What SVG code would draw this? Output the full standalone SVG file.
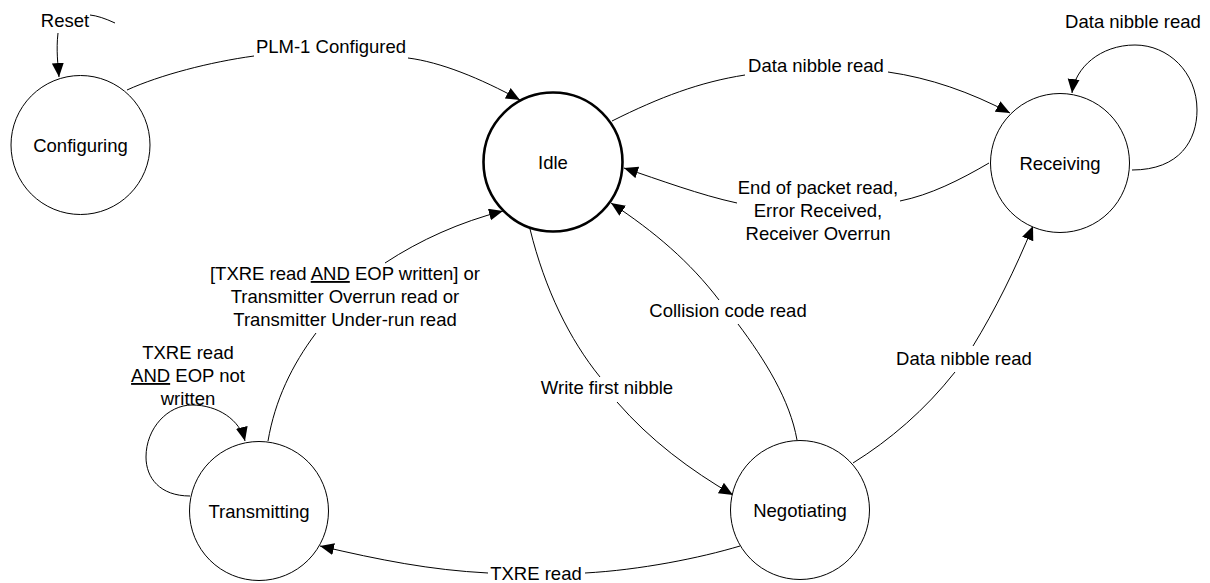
<svg xmlns="http://www.w3.org/2000/svg" width="1210" height="583" viewBox="0 0 1210 583">
<defs>
<marker id="arr" markerUnits="userSpaceOnUse" markerWidth="16" markerHeight="14" refX="14" refY="6" orient="auto">
<path d="M0,0 L14,6 L0,12 z" fill="#000"/>
</marker>
<style>
.st{fill:#fff;stroke:#000;stroke-width:1}
.idle{stroke-width:2.6}
.lbl{font-family:"Liberation Sans",Arial,sans-serif;font-size:18.5px;fill:#000;text-anchor:middle}
.c{fill:none;stroke:#000;stroke-width:1}
.a{marker-end:url(#arr)}
</style>
</defs>
<g id="connectors">
<path class="c" d="M115,23 Q100,16 90,15"/>
<path class="c a" d="M58,33 C56,50 58,65 59,77"/>
<path class="c" d="M127,90 C160,75 210,62 254,56"/>
<path class="c a" d="M408,58 C440,62 480,78 520,100"/>
<path class="c" d="M612,121 C660,97 700,82 745,75"/>
<path class="c a" d="M888,72 C930,78 970,92 1010,113"/>
<path class="c a" d="M1132,170 C1180,170 1197,140 1197,110 C1197,72 1168,45 1135,45 C1100,45 1075,68 1072,93"/>
<path class="c" d="M989,163 C960,180 930,195 900,201"/>
<path class="c a" d="M737,203 C700,195 660,180 624,168"/>
<path class="c" d="M797,440 C790,400 765,360 738,324"/>
<path class="c a" d="M719,300 C690,262 655,232 611,203"/>
<path class="c" d="M530,229 C545,290 570,340 600,377"/>
<path class="c a" d="M617,402 C650,440 690,470 733,495"/>
<path class="c" d="M853,463 C890,440 925,410 955,372"/>
<path class="c a" d="M973,346 C995,310 1015,270 1033,226"/>
<path class="c" d="M268,441 C275,400 292,365 316,333"/>
<path class="c a" d="M385,263 C420,240 460,222 503,211"/>
<path class="c a" d="M190,496 C160,496 146,478 146,457 C146,428 168,405 192,405 C218,405 240,420 245,441"/>
<path class="c" d="M740,546 C700,558 640,570 585,573"/>
<path class="c a" d="M488,573 C430,570 380,560 320,546"/>
</g>
<g id="labels">
<text class="lbl" x="65" y="27">Reset</text>
<text class="lbl" x="331" y="53">PLM-1 Configured</text>
<text class="lbl" x="816" y="72">Data nibble read</text>
<text class="lbl" x="1133" y="28">Data nibble read</text>
<text class="lbl" x="818" y="194">End of packet read,</text>
<text class="lbl" x="818" y="217">Error Received,</text>
<text class="lbl" x="818" y="240">Receiver Overrun</text>
<text class="lbl" x="728" y="317">Collision code read</text>
<text class="lbl" x="607" y="394">Write first nibble</text>
<text class="lbl" x="964" y="365">Data nibble read</text>
<text class="lbl" x="345" y="280">[TXRE read <tspan text-decoration="underline">AND</tspan> EOP written] or</text>
<text class="lbl" x="345" y="303">Transmitter Overrun read or</text>
<text class="lbl" x="345" y="326">Transmitter Under-run read</text>
<text class="lbl" x="188" y="359">TXRE read</text>
<text class="lbl" x="188" y="382"><tspan text-decoration="underline">AND</tspan> EOP not</text>
<text class="lbl" x="188" y="405">written</text>
<text class="lbl" x="536" y="580">TXRE read</text>
</g>
<g id="node-configuring">
<circle class="st" cx="80.5" cy="145" r="69.5"/>
<text class="lbl" x="80.5" y="151.5">Configuring</text>
</g>
<g id="node-idle">
<circle class="st idle" cx="553" cy="162" r="69.5"/>
<text class="lbl" x="553" y="168.5">Idle</text>
</g>
<g id="node-receiving">
<circle class="st" cx="1060" cy="163" r="69.5"/>
<text class="lbl" x="1060" y="169.5">Receiving</text>
</g>
<g id="node-transmitting">
<circle class="st" cx="259" cy="511" r="69.5"/>
<text class="lbl" x="259" y="517.5">Transmitting</text>
</g>
<g id="node-negotiating">
<circle class="st" cx="800" cy="510" r="69.5"/>
<text class="lbl" x="800" y="516.5">Negotiating</text>
</g>
</svg>
